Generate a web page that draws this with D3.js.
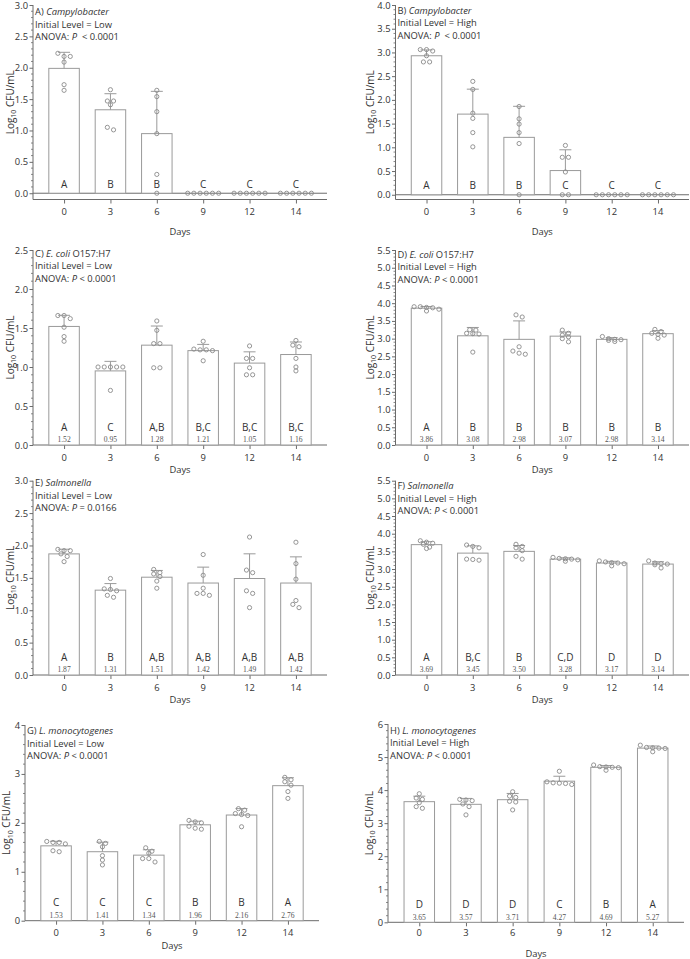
<!DOCTYPE html>
<html><head><meta charset="utf-8">
<script src="https://cdn.jsdelivr.net/npm/d3@7"></script>
<style>body{margin:0;background:#fff} svg{display:block} text{font-family:"Open Sans",sans-serif}</style>
</head><body>
<svg id="c" width="690" height="959"></svg>
<script>
const days = ["0","3","6","9","12","14"];

// Panel A – Campylobacter, low
const lettersA = ["A","B","B","C","C","C"];
const meansA = [1.99,1.33,0.95,0,0,0];
const pointsA = [[2.23,2.18,2.18,2.09,1.73,1.64],[1.65,1.47,1.47,1.41,1.05,1.01],[1.64,1.54,1.30,0.95,0.30,0],[0,0,0,0,0,0],[0,0,0,0,0,0],[0,0,0,0,0,0]];
// Panel B – Campylobacter, high
const lettersB = ["A","B","B","C","C","C"];
const meansB = [2.93,1.70,1.21,0.51,0,0];
const pointsB = [[3.06,3.03,3.06,2.93,2.80,2.80],[2.39,2.22,1.72,1.61,1.31,1.01],[1.86,1.60,1.49,1.31,1.08,0],[1.04,0.79,0.79,0.48,0,0],[0,0,0,0,0,0],[0,0,0,0,0,0]];
// Panel C – E. coli, low
const lettersC = ["A","C","A,B","B,C","B,C","B,C"];
const meansC = [1.52,0.95,1.28,1.21,1.05,1.16];
const pointsC = [[1.66,1.66,1.62,1.51,1.39,1.33],[1.0,1.0,1.0,1.0,1.0,0.70],[1.59,1.47,1.30,1.30,0.99,0.99],[1.33,1.23,1.22,1.22,1.21,1.08],[1.27,1.11,1.11,0.99,0.90,0.90],[1.34,1.28,1.26,1.11,1.00,0.95]];
// Panel D – E. coli, high
const lettersD = ["A","B","B","B","B","B"];
const meansD = [3.86,3.08,2.98,3.07,2.98,3.14];
const pointsD = [[3.90,3.88,3.78,3.87,3.83,3.90],[3.15,3.24,3.25,3.13,3.14,2.62],[3.61,3.67,2.77,2.56,2.65,2.59],[3.24,3.15,3.10,3.05,3.00,2.91],[3.06,3.00,2.98,2.97,2.95,2.92],[3.26,3.20,3.15,3.12,3.10,3.01]];
// Panel E – Salmonella, low
const lettersE = ["A","B","A,B","A,B","A,B","A,B"];
const meansE = [1.87,1.31,1.51,1.42,1.49,1.42];
const pointsE = [[1.94,1.92,1.92,1.87,1.83,1.75],[1.49,1.33,1.30,1.32,1.20,1.23],[1.63,1.58,1.56,1.52,1.45,1.34],[1.86,1.54,1.34,1.23,1.26,1.26],[2.13,1.62,1.58,1.30,1.26,1.04],[2.05,1.72,1.48,1.15,1.09,1.04]];
// Panel F – Salmonella, high
const lettersF = ["A","B,C","B","C,D","D","D"];
const meansF = [3.69,3.45,3.50,3.28,3.17,3.14];
const pointsF = [[3.80,3.76,3.73,3.70,3.62,3.58],[3.64,3.68,3.60,3.25,3.28,3.27],[3.70,3.64,3.60,3.52,3.36,3.28],[3.33,3.30,3.29,3.28,3.26,3.22],[3.23,3.20,3.18,3.17,3.15,3.09],[3.23,3.17,3.15,3.14,3.12,3.03]];
// Panel G – L. monocytogenes, low
const lettersG = ["C","C","C","B","B","A"];
const meansG = [1.53,1.41,1.34,1.96,2.16,2.76];
const pointsG = [[1.62,1.60,1.60,1.57,1.43,1.41],[1.62,1.58,1.51,1.33,1.24,1.14],[1.49,1.42,1.38,1.20,1.27,1.27],[2.05,2.02,2.00,1.93,1.89,1.87],[2.29,2.26,2.19,2.17,2.15,1.92],[2.93,2.88,2.84,2.77,2.64,2.50]];
// Panel H – L. monocytogenes, high
const lettersH = ["D","D","D","C","B","A"];
const meansH = [3.65,3.57,3.71,4.27,4.69,5.27];
const pointsH = [[3.89,3.76,3.72,3.62,3.50,3.45],[3.72,3.70,3.68,3.58,3.50,3.25],[3.95,3.82,3.78,3.66,3.64,3.40],[4.57,4.25,4.22,4.21,4.20,4.17],[4.76,4.71,4.70,4.69,4.68,4.60],[5.36,5.29,5.28,5.27,5.26,5.16]];

const panels = [
 {tag:"A) ", org:"Campylobacter", extra:"", level:"Low", p:"  < 0.0001", means:meansA, pts:pointsA, letters:lettersA, yMin:-0.1, yMax:3, step:0.5, minor:0.1, fmt:".1f", L:33, R:327, T:5, B:199.5, annY:15.2, values:false, zero:true, tickLblY:215, daysY:234.5, ylx:10},
 {tag:"B) ", org:"Campylobacter", extra:"", level:"High", p:"  < 0.0001", means:meansB, pts:pointsB, letters:lettersB, yMin:-0.1, yMax:4, step:0.5, minor:0.1, fmt:".1f", L:395.5, R:689, T:5, B:199.5, annY:13.5, values:false, zero:true, tickLblY:215, daysY:234.5, ylx:370},
 {tag:"C) ", org:"E. coli", extra:" O157:H7", level:"Low", p:" < 0.0001", means:meansC, pts:pointsC, letters:lettersC, yMin:0, yMax:2.5, step:0.5, minor:0.1, fmt:".1f", L:33, R:327, T:250, B:445, annY:256.8, values:true, zero:false, tickLblY:460.5, daysY:472.5, ylx:10},
 {tag:"D) ", org:"E. coli", extra:" O157:H7", level:"High", p:" < 0.0001", means:meansD, pts:pointsD, letters:lettersD, yMin:0, yMax:5.5, step:0.5, minor:0.1, fmt:".1f", L:395.5, R:689, T:250, B:445, annY:257.8, values:true, zero:false, tickLblY:460.5, daysY:472.5, ylx:370},
 {tag:"E) ", org:"Salmonella", extra:"", level:"Low", p:" = 0.0166", means:meansE, pts:pointsE, letters:lettersE, yMin:0, yMax:3, step:0.5, minor:0.1, fmt:".1f", L:33, R:327, T:480.7, B:675, annY:486.2, values:true, zero:false, tickLblY:690.5, daysY:702.5, ylx:10},
 {tag:"F) ", org:"Salmonella", extra:"", level:"High", p:" < 0.0001", means:meansF, pts:pointsF, letters:lettersF, yMin:0, yMax:5.5, step:0.5, minor:0.1, fmt:".1f", L:395.5, R:689, T:480.7, B:675, annY:489.2, values:true, zero:false, tickLblY:690.5, daysY:702.5, ylx:370},
 {tag:"G) ", org:"L. monocytogenes", extra:"", level:"Low", p:" < 0.0001", means:meansG, pts:pointsG, letters:lettersG, yMin:0, yMax:4, step:1, minor:0.2, fmt:"d", L:25, R:319, T:725, B:920.7, annY:734.2, values:true, zero:false, tickLblY:935.8, daysY:948.8, ylx:6.5},
 {tag:"H) ", org:"L. monocytogenes", extra:"", level:"High", p:" < 0.0001", means:meansH, pts:pointsH, letters:lettersH, yMin:0, yMax:6, step:1, minor:0.2, fmt:"d", L:388, R:684, T:724, B:922.3, annY:733.5, values:true, zero:false, tickLblY:936, daysY:956.5, ylx:369}
];

const svg = d3.select("#c");
const TXT = "#333", AX = "#6b6b6b", BAR = "#9a9a9a", PT = "#8a8a8a";
const FS = 9.4;

panels.forEach(cfg => {
  const g = svg.append("g");
  const x = d3.scalePoint().domain(days).range([cfg.L, cfg.R]).padding(0.67);
  const y = d3.scaleLinear().domain([cfg.yMin, cfg.yMax]).range([cfg.B, cfg.T]);
  const bw = 30.5;

  // y axis
  const majors = d3.range(0, cfg.yMax + 1e-9, cfg.step);
  const minors = d3.range(0, cfg.yMax + 1e-9, cfg.minor).filter(v => Math.abs(v / cfg.step - Math.round(v / cfg.step)) > 1e-6);
  const yAxis = d3.axisLeft(y).tickValues(majors).tickSize(3.5).tickPadding(1.5).tickFormat(d3.format(cfg.fmt));
  const ya = g.append("g").attr("transform", `translate(${cfg.L},0)`).call(yAxis);
  ya.select(".domain").attr("d", `M-0,${cfg.T}H0V${cfg.B}`).attr("stroke", AX);
  ya.selectAll(".tick line").attr("stroke", AX);
  ya.selectAll(".tick text").attr("fill", TXT).style("font-size", FS + "px").style("font-family", '"Open Sans",sans-serif');
  g.append("g").selectAll("line").data(minors).join("line")
    .attr("x1", cfg.L - 2).attr("x2", cfg.L).attr("y1", d => y(d)).attr("y2", d => y(d)).attr("stroke", AX).attr("stroke-width", 0.8);

  // x axis
  const xAxis = d3.axisBottom(x).tickSize(4).tickPadding(0).tickFormat("");
  const xa = g.append("g").attr("transform", `translate(0,${cfg.B})`).call(xAxis);
  xa.select(".domain").attr("d", `M${cfg.L},0H${cfg.R}`).attr("stroke", AX);
  xa.selectAll(".tick line").attr("stroke", AX);
  g.append("g").selectAll("text").data(days).join("text")
    .attr("x", d => x(d)).attr("y", cfg.tickLblY).attr("text-anchor", "middle")
    .attr("fill", TXT).style("font-size", FS + "px").text(d => d);
  g.append("text").attr("x", (cfg.L + cfg.R) / 2).attr("y", cfg.daysY).attr("text-anchor", "middle")
    .attr("fill", TXT).style("font-size", FS + "px").text("Days");

  if (cfg.zero) {
    g.append("line").attr("x1", cfg.L).attr("x2", cfg.R).attr("y1", y(0)).attr("y2", y(0)).attr("stroke", AX);
  }

  // y label
  const yl = g.append("text").attr("transform", `translate(${cfg.ylx + 3.5},${(cfg.T + cfg.B) / 2}) rotate(-90)`)
    .attr("text-anchor", "middle").attr("fill", TXT).style("font-size", "10px");
  yl.append("tspan").text("Log");
  yl.append("tspan").attr("dy", 2.5).style("font-size", "7px").text("10");
  yl.append("tspan").attr("dy", -2.5).text(" CFU/mL");

  // bars
  g.append("g").selectAll("rect").data(cfg.means).join("rect")
    .attr("x", (d, i) => x(days[i]) - bw / 2).attr("width", bw)
    .attr("y", d => y(d)).attr("height", d => y(0) - y(d))
    .attr("fill", "#fff").attr("stroke", BAR).attr("stroke-width", 1)
    .style("display", d => d > 0 ? null : "none");

  // error bars (mean + SD)
  cfg.means.forEach((m, i) => {
    if (m <= 0) return;
    const sd = d3.deviation(cfg.pts[i]);
    const cx = x(days[i]);
    g.append("line").attr("x1", cx).attr("x2", cx).attr("y1", y(m)).attr("y2", y(m + sd)).attr("stroke", BAR);
    g.append("line").attr("x1", cx - 6).attr("x2", cx + 6).attr("y1", y(m + sd)).attr("y2", y(m + sd)).attr("stroke", BAR);
  });

  // points (rows centred, like a column scatter)
  const dstep = 6.2, thr = 3.5;
  cfg.pts.forEach((vals, i) => {
    const cx = x(days[i]);
    const s = vals.map(v => ({ v, py: y(v) })).sort((a, b) => a.py - b.py);
    const rows = [];
    s.forEach(p => { const r = rows[rows.length - 1]; if (r && p.py - r[0].py < thr) r.push(p); else rows.push([p]); });
    rows.forEach(r => r.forEach((p, k) => p.dx = (k - (r.length - 1) / 2) * dstep));
    g.append("g").selectAll("circle").data(s).join("circle")
      .attr("cx", p => cx + p.dx).attr("cy", p => p.py).attr("r", 2.1)
      .attr("fill", "none").attr("stroke", PT).attr("stroke-width", 0.9);
  });

  // letters and value labels
  const letterOff = cfg.values ? 14.5 : 5.5;
  g.append("g").selectAll("text").data(cfg.letters).join("text")
    .attr("x", (d, i) => x(days[i])).attr("y", y(0) - letterOff).attr("text-anchor", "middle")
    .attr("fill", TXT).style("font-size", "10px").text(d => d);
  if (cfg.values) {
    g.append("g").selectAll("text").data(cfg.means).join("text")
      .attr("x", (d, i) => x(days[i])).attr("y", y(0) - 2.6).attr("text-anchor", "middle")
      .attr("fill", "#555").style("font-size", "7.6px").style("font-family", '"Liberation Serif",serif')
      .text(d => d3.format(".2f")(d));
  }

  // annotation
  const ax = cfg.L + 2;
  const t1 = g.append("text").attr("x", ax).attr("y", cfg.annY).attr("fill", TXT).style("font-size", FS + "px");
  t1.append("tspan").text(cfg.tag);
  t1.append("tspan").style("font-style", "italic").text(cfg.org);
  if (cfg.extra) t1.append("tspan").text(cfg.extra);
  g.append("text").attr("x", ax).attr("y", cfg.annY + 12.5).attr("fill", TXT).style("font-size", FS + "px")
    .text("Initial Level = " + cfg.level);
  const t3 = g.append("text").attr("x", ax).attr("y", cfg.annY + 25).attr("fill", TXT).style("font-size", FS + "px")
    .attr("xml:space", "preserve").style("white-space", "pre");
  t3.append("tspan").text("ANOVA: ");
  t3.append("tspan").style("font-style", "italic").text("P");
  t3.append("tspan").text(cfg.p);
});
</script>
</body></html>
